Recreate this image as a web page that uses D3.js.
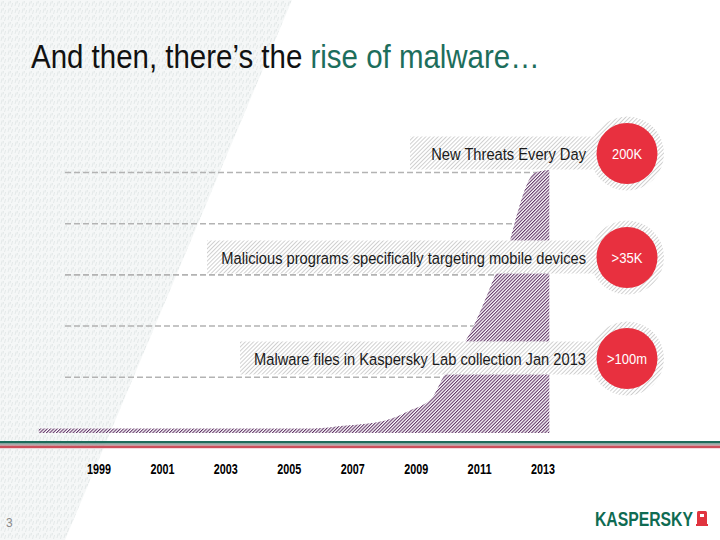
<!DOCTYPE html>
<html>
<head>
<meta charset="utf-8">
<script src="https://cdn.jsdelivr.net/npm/d3@7"></script>
<style>
  html, body { margin: 0; padding: 0; background: #fff; }
  svg { display: block; }
</style>
</head>
<body>
<script>
// ---------- data ----------
const yearLabels = ["1999", "2001", "2003", "2005", "2007", "2009", "2011", "2013"];
const yearTicks = [1999, 2001, 2003, 2005, 2007, 2009, 2011, 2013];
const areaYears = [1997.1, 2005.8, 2006.7, 2008.0, 2008.8, 2009.5, 2009.85, 2010.85, 2011.5, 2011.95, 2012.1, 2012.75, 2013.2];
const areaValues = [0, 0, 0.05, 0.15, 0.35, 0.6, 1.0, 2.05, 3.0, 3.65, 4.0, 5.0, 5.05];
const gridValues = [1, 2, 3, 4, 5];
const statLabels = ["New Threats Every Day", "Malicious programs specifically targeting mobile devices", "Malware files in Kaspersky Lab collection Jan 2013"];
const statBadges = ["200K", ">35K", ">100m"];
const titleBlack = "And then, there\u2019s the ";
const titleGreen = "rise of malware\u2026";

// ---------- layout ----------
const W = 720, H = 540;
const FONT = "'Liberation Sans Narrow', 'Liberation Sans', Arial, sans-serif";
const svg = d3.select("body").append("svg").attr("width", W).attr("height", H);
const defs = svg.append("defs");

const x = d3.scaleLinear().domain([1999, 2013]).range([99, 543]);
const y = d3.scaleLinear().domain([-0.09, 5]).range([433, 172.5]);

// patterns
const bg = defs.append("pattern").attr("id", "bgTex").attr("patternUnits", "userSpaceOnUse")
  .attr("width", 7).attr("height", 7);
bg.append("rect").attr("width", 7).attr("height", 7).attr("fill", "#f5f7f7");
bg.append("path").attr("d", "M1,6 L2.2,1.5 M4.5,7 L5.6,3 M3,3.5 L3.6,1")
  .attr("stroke", "#e1e6e6").attr("stroke-width", 0.9).attr("fill", "none");

const hp = defs.append("pattern").attr("id", "hatchPurple").attr("patternUnits", "userSpaceOnUse")
  .attr("width", 2.35).attr("height", 10).attr("patternTransform", "rotate(45)");
hp.append("rect").attr("width", 1.05).attr("height", 10).attr("fill", "#5e3064");

const hg = defs.append("pattern").attr("id", "hatchGray").attr("patternUnits", "userSpaceOnUse")
  .attr("width", 2.9).attr("height", 10).attr("patternTransform", "rotate(45)");
hg.append("rect").attr("width", 0.9).attr("height", 10).attr("fill", "#cccccc");

// background
svg.append("rect").attr("width", W).attr("height", H).attr("fill", "#fff");
svg.append("polygon").attr("points", "0,0 292,0 65,540 0,540").attr("fill", "url(#bgTex)");

function fitText(sel, tx, ty, targetW) {
  const w = sel.node().getComputedTextLength();
  const s = w > 0 ? targetW / w : 1;
  sel.attr("x", 0).attr("y", 0).attr("transform", `translate(${tx},${ty}) scale(${s},1)`);
  return sel;
}

// title
const title = svg.append("text").attr("font-family", FONT).attr("font-size", 34);
title.append("tspan").attr("fill", "#111").text(titleBlack);
title.append("tspan").attr("fill", "#1d6e5c").text(titleGreen);
fitText(title, 31, 68, 509);

// gridlines
svg.append("g").selectAll("line").data(gridValues).join("line")
  .attr("x1", 65).attr("x2", 548)
  .attr("y1", d => y(d)).attr("y2", d => y(d))
  .attr("stroke", "#b3b3b3").attr("stroke-width", 1.6).attr("stroke-dasharray", "6,3");

// area
const pts = areaYears.map((yr, i) => [yr, areaValues[i]]);
const area = d3.area().x(d => x(d[0])).y0(y(-0.09)).y1(d => y(d[1])).curve(d3.curveMonotoneX);
svg.append("path").attr("d", area(pts)).attr("fill", "#fff");
svg.append("path").attr("d", area(pts)).attr("fill", "url(#hatchPurple)");

// stat label boxes
const rowY = [153, 257, 358];
const boxLeft = [410, 207, 240];
const labelW = [155, 365, 332];
const badgeW = [30, 31, 40];
statLabels.forEach((lab, i) => {
  const cy = rowY[i];
  svg.append("rect").attr("x", boxLeft[i]).attr("y", cy - 16.5).attr("width", 600 - boxLeft[i]).attr("height", 33)
    .attr("fill", "#fff");
  svg.append("rect").attr("x", boxLeft[i]).attr("y", cy - 16.5).attr("width", 600 - boxLeft[i]).attr("height", 33)
    .attr("fill", "url(#hatchGray)");
  const t = svg.append("text").attr("font-family", FONT).attr("font-size", 17)
    .attr("fill", "#1a1a1a").attr("text-anchor", "end").text(lab);
  fitText(t, 586, cy + 6.5, labelW[i]);

  // badge
  svg.append("circle").attr("cx", 627).attr("cy", cy + 0.5).attr("r", 37).attr("fill", "#fff");
  svg.append("circle").attr("cx", 627).attr("cy", cy + 0.5).attr("r", 37).attr("fill", "url(#hatchGray)");
  svg.append("circle").attr("cx", 627).attr("cy", cy + 0.5).attr("r", 30.5).attr("fill", "#e8303f");
  const b = svg.append("text").attr("font-family", FONT).attr("font-size", 14)
    .attr("fill", "#fff").attr("text-anchor", "middle").text(statBadges[i]);
  fitText(b, 627, cy + 5.5, badgeW[i]);
});

// bottom stripes
svg.append("rect").attr("x", 0).attr("y", 441).attr("width", W).attr("height", 2.6).attr("fill", "#1d6b5a");
svg.append("rect").attr("x", 0).attr("y", 443.6).attr("width", W).attr("height", 2).attr("fill", "#a9a9a9");
svg.append("rect").attr("x", 0).attr("y", 445.6).attr("width", W).attr("height", 2.6).attr("fill", "#cc4f5b");

// x-axis year labels
yearTicks.forEach((yr, i) => {
  const t = svg.append("text").attr("font-family", FONT).attr("font-size", 14).attr("font-weight", "bold")
    .attr("fill", "#000").attr("text-anchor", "middle").text(yearLabels[i]);
  fitText(t, x(yr), 474, 24);
});

// page number
svg.append("text").attr("x", 6).attr("y", 527).attr("font-family", FONT).attr("font-size", 12)
  .attr("fill", "#8a8a8a").text("3");

// logo
const logo = svg.append("text").attr("font-family", FONT).attr("font-size", 21).attr("font-weight", "bold")
  .attr("fill", "#0f6b52").text("KASPERSKY");
fitText(logo, 595, 525.5, 98);
svg.append("rect").attr("x", 697).attr("y", 511).attr("width", 10).attr("height", 15).attr("rx", 1.5).attr("fill", "#e0343f");
svg.append("rect").attr("x", 700).attr("y", 514).attr("width", 4).attr("height", 3).attr("fill", "#fff");
svg.append("rect").attr("x", 696).attr("y", 524).attr("width", 12).attr("height", 2).attr("fill", "#e0343f");
</script>
</body>
</html>
